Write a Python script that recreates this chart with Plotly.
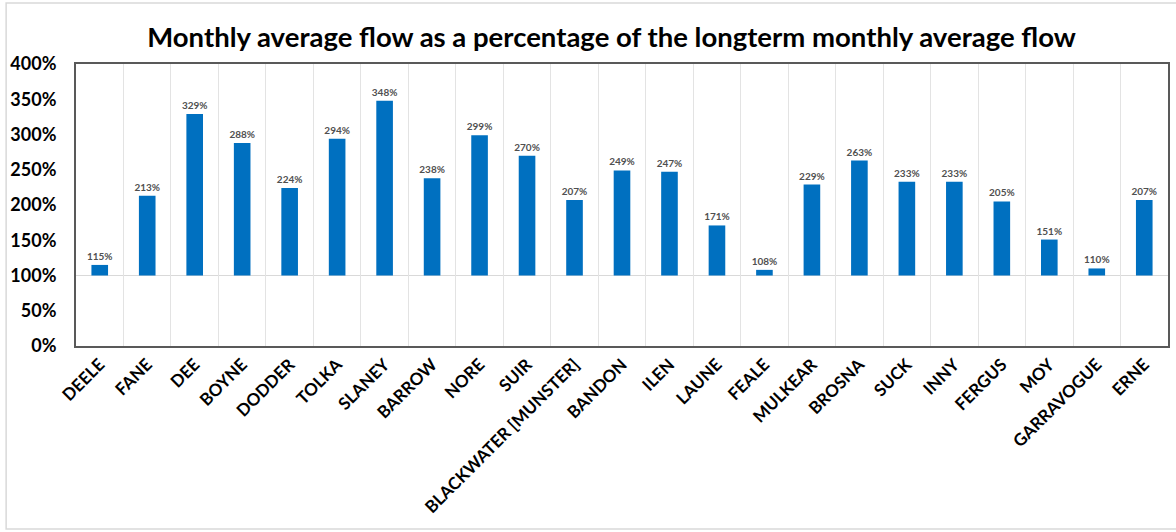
import plotly.graph_objects as go

rivers = ["DEELE", "FANE", "DEE", "BOYNE", "DODDER", "TOLKA", "SLANEY", "BARROW",
          "NORE", "SUIR", "BLACKWATER [MUNSTER]", "BANDON", "ILEN", "LAUNE", "FEALE",
          "MULKEAR", "BROSNA", "SUCK", "INNY", "FERGUS", "MOY", "GARRAVOGUE", "ERNE"]
pct = [115, 213, 329, 288, 224, 294, 348, 238, 299, 270, 207, 249, 247, 171, 108,
       229, 263, 233, 233, 205, 151, 110, 207]
baseline = 100
y_ticks = [0, 50, 100, 150, 200, 250, 300, 350, 400]
title = "Monthly average flow as a percentage of the longterm monthly average flow"

W, H = 1176, 532
ml, mr, mt, mb = 76, 6, 64, 186
pw, ph = W - ml - mr, H - mt - mb

def px2paper_x(px):
    return (px - ml) / pw

def px2paper_y(py):
    return (H - mb - py) / ph

fig = go.Figure()
fig.add_trace(go.Bar(
    x=rivers,
    y=[(v - baseline) / 100 for v in pct],
    base=baseline / 100,
    marker=dict(color="#0070C0", line=dict(width=0)),
    width=0.35,
    text=[f"{v}%" for v in pct],
    textposition="outside",
    constraintext="none",
    textfont=dict(family="Lato", size=10, color="#505050", weight="bold"),
    cliponaxis=False,
))

fig.add_hline(y=baseline / 100, line=dict(color="#D9D9D9", width=1), layer="below")

fig.update_layout(
    width=W, height=H,
    margin=dict(l=ml, r=mr, t=mt, b=mb),
    paper_bgcolor="white", plot_bgcolor="white",
    showlegend=False,
    title=dict(text=title, x=0.52, xanchor="center", y=1 - 37 / H, yanchor="middle",
               font=dict(family="Lato", size=27.5, color="black", weight="bold")),
    xaxis=dict(
        type="category", tickangle=-45, tickson="boundaries",
        showgrid=True, gridcolor="#E3E3E3", gridwidth=1,
        showline=True, linecolor="#595959", linewidth=2, mirror=True,
        ticks="", tickfont=dict(family="Lato", size=17, color="black", weight="bold"),
        range=[-0.5, len(rivers) - 0.5],
    ),
    yaxis=dict(
        range=[0, 4], tickvals=[t / 100 for t in y_ticks],
        ticktext=[f"{t}%" for t in y_ticks],
        showgrid=False, zeroline=False,
        showline=True, linecolor="#595959", linewidth=2, mirror=True,
        ticks="", ticklabelstandoff=14,
        tickfont=dict(family="Lato", size=18, color="black", weight="bold"),
    ),
    bargap=0.65,
)

# outer light frame
fig.add_shape(type="rect", xref="paper", yref="paper",
              x0=px2paper_x(6), x1=px2paper_x(1180), y0=px2paper_y(529), y1=px2paper_y(3),
              line=dict(color="#D9D9D9", width=1.5), fillcolor="rgba(0,0,0,0)", layer="below")

fig.write_html("out.html")
